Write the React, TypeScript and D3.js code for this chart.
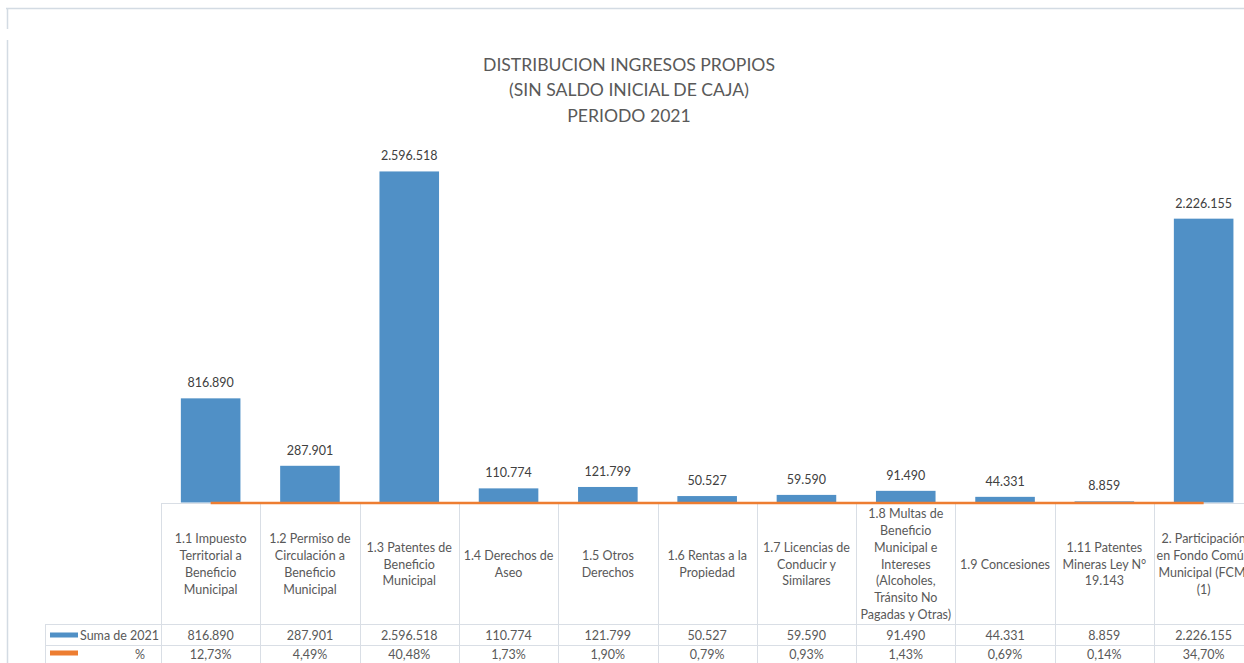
import { useEffect, useRef } from "react"
import * as d3 from "d3"

const categories = [
  "1.1 Impuesto\nTerritorial a\nBeneficio\nMunicipal",
  "1.2 Permiso de\nCirculación a\nBeneficio\nMunicipal",
  "1.3 Patentes de\nBeneficio\nMunicipal",
  "1.4 Derechos de\nAseo",
  "1.5 Otros\nDerechos",
  "1.6 Rentas a la\nPropiedad",
  "1.7 Licencias de\nConducir y\nSimilares",
  "1.8 Multas de\nBeneficio\nMunicipal e\nIntereses\n(Alcoholes,\nTránsito No\nPagadas y Otras)",
  "1.9 Concesiones",
  "1.11 Patentes\nMineras Ley N°\n19.143",
  "2. Participación\nen Fondo Común\nMunicipal (FCM)\n(1)",
]
const suma2021 = [816890, 287901, 2596518, 110774, 121799, 50527, 59590, 91490, 44331, 8859, 2226155]
const sumaLabels = ["816.890", "287.901", "2.596.518", "110.774", "121.799", "50.527", "59.590", "91.490", "44.331", "8.859", "2.226.155"]
const pct = [12.73, 4.49, 40.48, 1.73, 1.9, 0.79, 0.93, 1.43, 0.69, 0.14, 34.7]
const pctLabels = ["12,73%", "4,49%", "40,48%", "1,73%", "1,90%", "0,79%", "0,93%", "1,43%", "0,69%", "0,14%", "34,70%"]
const titleLines = ["DISTRIBUCION INGRESOS PROPIOS", "(SIN SALDO INICIAL DE CAJA)", "PERIODO 2021"]
const seriesNames = ["Suma de 2021", "%"]

export default function App() {
  const ref = useRef<SVGSVGElement>(null)
  const width = 1244
  const height = 663

  useEffect(() => {
    const svg = d3.select(ref.current)
    svg.selectAll("*").remove()
    const font = "Lato, 'Liberation Sans', sans-serif"
    const grid = "#d9dee5"
    const txt = "#595959"
    const blue = "#5090c6"
    const orange = "#ed7d31"
    const fs = 12.5

    const left = 161
    const step = 99.3
    const x = d3.scaleBand<number>()
      .domain(d3.range(categories.length))
      .range([left, left + step * categories.length])
      .paddingInner(0.4)
      .paddingOuter(0.2)
    const cells = d3.scaleBand<number>()
      .domain(d3.range(categories.length))
      .range([left, left + step * categories.length])
    const y = d3.scaleLinear().domain([0, 3000000]).range([502.5, 120])

    // frame
    svg.append("line").attr("x1", 6).attr("x2", width).attr("y1", 8.5).attr("y2", 8.5)
      .attr("stroke", "#d3dbe3").attr("stroke-width", 1.5)
    svg.append("line").attr("x1", 7.5).attr("x2", 7.5).attr("y1", 8).attr("y2", 29)
      .attr("stroke", "#d3dbe3").attr("stroke-width", 1.5)
    svg.append("line").attr("x1", 7.5).attr("x2", 7.5).attr("y1", 40).attr("y2", height)
      .attr("stroke", "#d3dbe3").attr("stroke-width", 1.5)

    // title
    svg.append("text")
      .attr("x", 629).attr("y", 70.5)
      .attr("text-anchor", "middle")
      .attr("font-family", font).attr("font-size", 17.6).attr("fill", txt)
      .selectAll("tspan").data(titleLines).enter().append("tspan")
      .attr("x", 629).attr("dy", (d, i) => (i === 0 ? 0 : 25.5))
      .text(d => d)

    // table grid
    const rowTop = 503.5, rowH = 624.5, rowS = 645.5, rowP = 667
    const tg = svg.append("g").attr("stroke", grid).attr("stroke-width", 1)
    tg.append("line").attr("x1", left).attr("x2", width).attr("y1", rowTop).attr("y2", rowTop)
    tg.append("line").attr("x1", 45).attr("x2", width).attr("y1", rowH).attr("y2", rowH)
    tg.append("line").attr("x1", 45).attr("x2", width).attr("y1", rowS).attr("y2", rowS)
    tg.append("line").attr("x1", 45.5).attr("x2", 45.5).attr("y1", rowH).attr("y2", rowP)
    tg.selectAll(".v").data(d3.range(categories.length + 1)).enter().append("line")
      .attr("x1", d => Math.round(left + d * step) + 0.5)
      .attr("x2", d => Math.round(left + d * step) + 0.5)
      .attr("y1", rowTop).attr("y2", rowP)

    // bars
    svg.append("g").selectAll("rect").data(suma2021).enter().append("rect")
      .attr("x", (d, i) => x(i)!)
      .attr("width", x.bandwidth())
      .attr("y", d => y(d))
      .attr("height", d => y(0) - y(d))
      .attr("fill", blue)

    svg.append("g").selectAll("text").data(suma2021).enter().append("text")
      .attr("x", (d, i) => x(i)! + x.bandwidth() / 2)
      .attr("y", d => y(d) - 11)
      .attr("text-anchor", "middle")
      .attr("font-family", font).attr("font-size", fs).attr("fill", "#404040")
      .text((d, i) => sumaLabels[i])

    // % line (same axis, so it sits on zero)
    const line = d3.line<number>()
      .x((d, i) => x(i)! + x.bandwidth() / 2)
      .y(d => y(d / 100) + 0.5)
    svg.append("path").datum(pct)
      .attr("d", line)
      .attr("fill", "none").attr("stroke", orange).attr("stroke-width", 2.4)

    // header cells
    const lh = 16.7
    categories.forEach((c, i) => {
      const lines = c.split("\n")
      const cx = cells(i)! + step / 2
      const cy = (rowTop + rowH) / 2
      const t = svg.append("text")
        .attr("text-anchor", "middle")
        .attr("font-family", font).attr("font-size", fs).attr("fill", txt)
      lines.forEach((l, j) => {
        t.append("tspan").attr("x", cx)
          .attr("y", cy + (j - (lines.length - 1) / 2) * lh + 4.5)
          .text(l)
      })
    })

    // value rows
    svg.append("g").selectAll("text").data(sumaLabels).enter().append("text")
      .attr("x", (d, i) => cells(i)! + step / 2)
      .attr("y", (rowH + rowS) / 2 + 4.5)
      .attr("text-anchor", "middle")
      .attr("font-family", font).attr("font-size", fs).attr("fill", txt)
      .text(d => d)
    svg.append("g").selectAll("text").data(pctLabels).enter().append("text")
      .attr("x", (d, i) => cells(i)! + step / 2)
      .attr("y", (rowS + rowP) / 2 + 2.5)
      .attr("text-anchor", "middle")
      .attr("font-family", font).attr("font-size", fs).attr("fill", txt)
      .text(d => d)

    // legend keys
    svg.append("rect").attr("x", 50).attr("y", 632.5).attr("width", 28).attr("height", 5).attr("fill", blue)
    svg.append("text").attr("x", 80).attr("y", (rowH + rowS) / 2 + 4.5)
      .attr("font-family", font).attr("font-size", fs).attr("fill", txt).text(seriesNames[0])
    svg.append("rect").attr("x", 50).attr("y", 650.5).attr("width", 28).attr("height", 5).attr("fill", orange)
    svg.append("text").attr("x", 135).attr("y", (rowS + rowP) / 2 + 2.5)
      .attr("font-family", font).attr("font-size", fs).attr("fill", txt).text(seriesNames[1])
  }, [])

  return (
    <div style={{ position: "absolute", left: 0, top: 0 }}>
      <svg ref={ref} width={width} height={height} style={{ display: "block" }}></svg>
    </div>
  )
}
